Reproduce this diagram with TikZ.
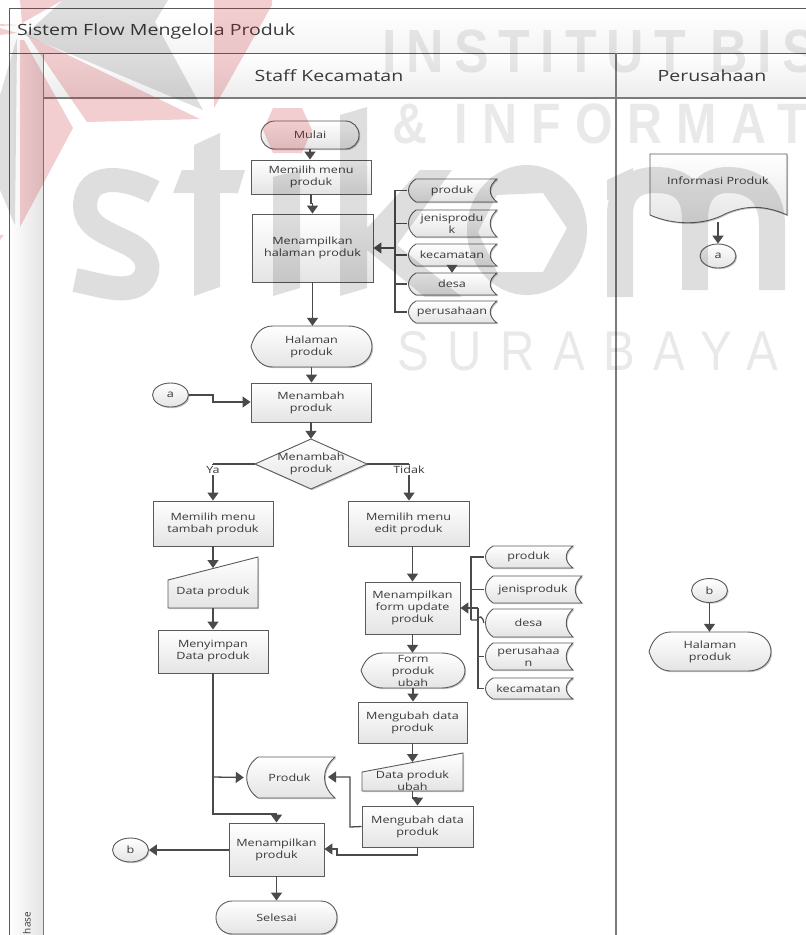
\documentclass[tikz,border=0pt]{standalone}
\usepackage{fontspec}
\setmainfont[FakeStretch=1.26]{Open Sans}
\newfontfamily\plainfont{Open Sans}
\newfontfamily\wmfont[FakeStretch=.85]{Liberation Sans}
\usetikzlibrary{arrows.meta,shadows,shapes.geometric}
\definecolor{linec}{HTML}{4A4A4A}
\definecolor{framec}{HTML}{5A5A5A}
\definecolor{txtc}{HTML}{3A3A3A}
\definecolor{nodeg}{HTML}{E4E4E4}
\definecolor{wmred}{HTML}{C4202E}
\tikzset{
  shapefill/.style={draw=framec,line width=0.9pt,top color=white,bottom color=nodeg,
    drop shadow={shadow xshift=1.2pt,shadow yshift=-1.2pt,fill=black,opacity=.22}},
  boxtxt/.style={inner sep=0pt,align=center,text=txtc,font=\fontsize{10}{12}\selectfont},
  flow/.style={draw=linec,line width=1.5pt,-{Triangle[length=8pt,width=11pt]}},
  plain/.style={draw=linec,line width=1.3pt},
  lab/.style={fill=white,inner sep=1pt,text=txtc,font=\fontsize{10}{11}\selectfont},
  bar/.style={draw=framec,line width=0.9pt},
  head/.style={text=txtc,font=\fontsize{15.5}{17}\selectfont},
}
% name x0 y0 x1 y1 text
\newcommand{\procbox}[6]{%
  \node[boxtxt,shapefill,rectangle,minimum width={(#4-#2)*1pt},minimum height={(#5-#3)*1pt}] (#1) at ({(#2+#4)/2},{(#3+#5)/2}) {#6};}
\newcommand{\termbox}[6]{%
  \node[boxtxt,shapefill,rectangle,rounded corners={(#5-#3)*0.49pt},minimum width={(#4-#2)*1pt},minimum height={(#5-#3)*1pt}] (#1) at ({(#2+#4)/2},{(#3+#5)/2}) {#6};}
\newcommand{\connbox}[4]{%
  \node[boxtxt,shapefill,ellipse,minimum width=36pt,minimum height=24pt] (#1) at (#2,#3) {#4};}
\newcommand{\storedbox}[7][9]{%
  \pgfmathsetmacro\hh{#6-#4}%
  \path[shapefill] (#3+#1,#4) -- (#5,#4) .. controls (#5-#1,#4+.3*\hh) and (#5-#1,#6-.3*\hh) .. (#5,#6) -- (#3+#1,#6) .. controls (#3-1,#6-.25*\hh) and (#3-1,#4+.25*\hh) .. (#3+#1,#4) -- cycle;
  \node[boxtxt,minimum width={(#5-#3)*1pt},minimum height={(#6-#4)*1pt}] (#2) at ({(#3+#5)/2},{(#4+#6)/2}) {#7};}
\newcommand{\displaybox}[6]{%
  \pgfmathsetmacro\ym{(#3+#5)/2}%
  \pgfmathsetmacro\hh{#5-#3}%
  \path[shapefill] (#2,\ym) .. controls (#2+4,\ym-.35*\hh) and (#2+12,#3) .. (#2+22,#3) -- (#4-24,#3) .. controls (#4-8,#3) and (#4,#3+.25*\hh) .. (#4,\ym) .. controls (#4,#5-.25*\hh) and (#4-8,#5) .. (#4-24,#5) -- (#2+22,#5) .. controls (#2+12,#5) and (#2+4,\ym+.35*\hh) .. (#2,\ym) -- cycle;
  \node[boxtxt,minimum width={(#4-#2)*1pt},minimum height={(#5-#3)*1pt}] (#1) at ({(#2+#4)/2},\ym) {#6};}
% name x0 ytopright x1 y1 yleft textcy text
\newcommand{\manualbox}[8]{%
  \path[shapefill] (#2,#6) -- (#4,#3) -- (#4,#5) -- (#2,#5) -- cycle;
  \node[inner sep=0pt,minimum width={(#4-#2)*1pt},minimum height={(#5-#3)*1pt}] (#1) at ({(#2+#4)/2},{(#3+#5)/2}) {};
  \node[boxtxt] (#1-t) at ({(#2+#4)/2},#7) {#8};}
\begin{document}
\begin{tikzpicture}[x=1pt,y=-1pt]
\useasboundingbox (0,0) rectangle (806,935);
\fill[white] (0,0) rectangle (806,935);
% swimlane frame
\path[top color=white,bottom color=nodeg!40] (9,9) rectangle (806,53);
\path[top color=white,bottom color=nodeg!70] (43,53) rectangle (806,98);
\path[left color=white,right color=nodeg] (9,53) rectangle (43,935);
\draw[bar] (806,8.5) -- (9.5,8.5) -- (9.5,935);
\draw[bar] (9.5,53) -- (806,53);
\draw[draw=framec!80,line width=1.4pt] (43.5,53) -- (43.5,935);
\draw[draw=framec!80,line width=1.2pt] (43.5,98) -- (806,98);
\draw[draw=framec!80,line width=1.2pt] (616,53) -- (616,935);
\node[head,anchor=west,inner sep=0pt] (title) at (17,31) {Sistem Flow Mengelola Produk};
\node[head] (lane1) at (329,76) {Staff Kecamatan};
\node[head] (lane2) at (712,76) {Perusahaan};
\node[rotate=90,inner sep=0pt,text=txtc,font=\plainfont\fontsize{10}{10}\selectfont] (phase) at (27,923) {hase};
% nodes
\termbox{mulai}{261}{121}{359}{149}{Mulai}
\procbox{menu}{251}{160}{371}{194}{Memilih menu\\produk}
\procbox{tampil}{252}{214}{373}{282}{Menampilkan\\halaman produk}
\storedbox{pa}{407}{179}{497}{202}{produk}
\storedbox{pb}{407}{210}{497}{237}{jenisprodu\\k}
\storedbox{pc}{407}{244}{497}{266}{kecamatan}
\storedbox{pd}{407}{273}{497}{295}{desa}
\storedbox{pe}{407}{301}{497}{323}{perusahaan}
\displaybox{hal}{251}{326}{372}{367}{Halaman\\produk}
\connbox{cona}{170.5}{395}{a}
\procbox{tambah}{251}{383}{371}{422}{Menambah\\produk}
\path[shapefill] (255,464) -- (311,439) -- (367,464) -- (311,489) -- cycle;
\node[boxtxt,minimum width=112pt,minimum height=50pt] (dec) at (311,464) {Menambah\\produk};
\procbox{mtambah}{153}{501}{273}{546}{Memilih menu\\tambah produk}
\procbox{medit}{348}{501}{469}{546}{Memilih menu\\edit produk}
\manualbox{dp}{168}{557}{258}{608}{580}{592}{Data produk}
\procbox{simpan}{158}{630}{268}{673}{Menyimpan\\Data produk}
\procbox{update}{365}{582}{460}{634}{Menampilkan\\form update\\produk}
\storedbox{qa}{484}{546}{573}{568}{produk}
\storedbox{qb}{484}{576}{582}{603}{jenisproduk}
\storedbox{qc}{484}{609}{573}{637}{desa}
\storedbox{qd}{484}{643}{573}{670}{perusahaa\\n}
\storedbox{qe}{484}{678}{573}{699}{kecamatan}
\displaybox{form}{361}{653}{465}{688}{Form\\produk\\ubah}
\procbox{ubah}{358}{702}{467}{743}{Mengubah data\\produk}
\manualbox{dpu}{362}{753}{463}{791}{772}{781}{Data produk\\ubah}
\procbox{ubah2}{362}{806}{473}{847}{Mengubah data\\produk}
\storedbox[14]{prod}{244}{757}{335}{798}{Produk}
\procbox{mprod}{229}{823}{324}{876}{Menampilkan\\produk}
\connbox{conb}{130.5}{850}{b}
\termbox{selesai}{216}{901}{337}{934}{Selesai}
% right lane
\path[shapefill] (650,154) -- (787,154) -- (787,215) .. controls (765,205) and (745,205) .. (725,214) .. controls (705,225) and (675,226) .. (650,215) -- cycle;
\node[inner sep=0pt,minimum width=137pt,minimum height=68pt] (info) at (718.5,188) {};
\node[boxtxt] (info-t) at (718,181) {Informasi Produk};
\connbox{cona2}{718}{256}{a}
\connbox{conb2}{709.5}{590.5}{b}
\displaybox{hal2}{649}{632}{771}{671}{Halaman\\produk}
% connector anchors
\coordinate (busa) at (395,248);
\coordinate (dpin) at (213,568);
\coordinate (dpuin) at (412.5,762);
\coordinate (busb) at (471,620);
\coordinate (busc) at (478,608);
\coordinate (hopa) at (477,620);
\coordinate (jog) at (213,814);
\coordinate (brn) at (213,777);
\coordinate (prodin) at (328,777);
% connectors
\draw[flow] (mulai.south) -- (mulai.south |- menu.north);
\draw[flow] (menu.south) -- ++(0,9) -| (tampil.north);
\draw[flow] (tampil.south) -- (tampil.south |- hal.north);
\draw[flow] (hal.south) -- (hal.south |- tambah.north);
\draw[flow,line width=1.3pt] (cona.east) -- (213,395) |- (tambah.west |- 0,402);
\draw[flow] (tambah.south) -- (tambah.south |- dec.north);
\draw[plain] (dec.west) -- (213,464) coordinate (ya);
\draw[flow] (ya) -- (ya |- mtambah.north);
\draw[plain] (dec.east) -- (409,464) coordinate (tidak);
\draw[flow] (tidak) -- (tidak |- medit.north);
\node[lab] (lya) at (213,470) {Ya};
\node[lab] (ltidak) at (409,470) {Tidak};
\draw[flow] (mtambah.south) -- (dpin);
\draw[flow] (dp.south) -- (dp.south |- simpan.north);
\draw[flow] (update.north |- medit.south) -- (update.north);
\draw[flow] (update.south) -- (update.south |- form.north);
\draw[flow] (form.south) -- (form.south |- ubah.north);
\draw[flow] (ubah.south) -- (dpuin);
\draw[flow] (dpu.south) -- (412.5,798) -| (ubah2.north);
\draw[flow] (simpan.south) -- (jog) -| (mprod.north);
\draw[flow,line width=1.3pt] (brn) -- (prod.west);
\draw[flow,line width=1.3pt] (ubah2.west) -- (350,827) |- (prodin);
\draw[flow,line width=1.3pt] (ubah2.south) -- (417.5,855) -- (337,855) |- (mprod.east |- 0,849);
\draw[flow,line width=1.3pt] (mprod.west |- conb.east) -- (conb.east);
\draw[flow] (mprod.south) -- (mprod.south |- selesai.north);
% first stored bus
\draw[plain] (pa.west) -| (busa);
\draw[plain] (pb.west) -| (busa);
\draw[plain] (pc.west) -| (busa);
\draw[plain] (pd.west) -| (busa);
\draw[plain] (pe.west) -| (busa);
\draw[flow] (busa) -- (tampil.east |- busa);
\draw[flow,line width=1pt] (pc.south) -- (pd.north);
% second stored bus
\draw[plain] (qa.west) -| (busb);
\draw[plain] (qb.west) -| (busb);
\draw[plain] (busb) -- (hopa) .. controls (479,615) and (483,616) .. (qc.west);
\draw[plain] (qd.west) -| (busc);
\draw[plain] (qe.west) -| (busc);
\draw[flow] (busc) -- (update.east |- busc);
% right lane connectors
\draw[flow] (718,222) -- (cona2.north);
\draw[flow] (conb2.south) -- (conb2.south |- hal2.north);
% watermark
\begin{scope}[transparency group,opacity=.13]
 \fill[black] (63,0) -- (158,0) -- (168,0) -- (155,22) -- (203,110) -- (25,35) -- cycle;
 \fill[black] (17,38) -- (15,225) -- (0,190) -- (0,95) -- cycle;
 % s
 \draw[black,line width=24pt] (154,192) .. controls (128,178) and (92,172) .. (86,198) .. controls (80,225) and (105,232) .. (125,242) .. controls (148,252) and (152,268) .. (143,280) .. controls (130,296) and (100,285) .. (75,280);
 % t
 \fill[black] (194,145) -- (220,133) -- (220,170) -- (245,170) -- (238,193) -- (220,193) -- (220,287) -- (194,296) -- (194,193) -- (173,193) -- (182,170) -- (194,170) -- cycle;
 % i
 \fill[black] (273,177) -- (300,170) -- (300,288) -- (273,296) -- cycle;
 % k
 \fill[black] (340,115) -- (367,107) -- (367,228) -- (420,170) -- (452,170) -- (397,245) -- (462,297) -- (425,297) -- (367,250) -- (367,288) -- (340,296) -- cycle;
 % o
 \fill[black,even odd rule] (527,230) ellipse [x radius=60,y radius=65] (497,195) -- (543,193) -- (567,228) -- (543,272) -- (497,272) -- (478,232) -- cycle;
 % m
 \draw[black,line width=26pt] (620,297) -- (620,215) .. controls (620,190) and (635,180) .. (655,180) .. controls (680,180) and (695,190) .. (695,220) -- (695,290) (695,220) .. controls (695,190) and (710,180) .. (728,180) .. controls (755,180) and (772,195) .. (772,225) -- (772,290);
 \fill[black] (607,180) -- (633,168) -- (633,200) -- (607,200) -- cycle;
\end{scope}
\begin{scope}[transparency group,opacity=.085]
 \node[anchor=base west,inner sep=0pt,text=black,font=\wmfont\bfseries\fontsize{61}{61}\selectfont\addfontfeature{LetterSpace=16.5}] (wma) at (382,72) {INSTITUT BIS};
 \node[anchor=base west,inner sep=0pt,text=black,font=\wmfont\bfseries\fontsize{57}{57}\selectfont\addfontfeature{LetterSpace=25}] (wmb) at (392,143) {\& INFORMAT};
 \node[anchor=base west,inner sep=0pt,text=black,font=\wmfont\fontsize{56}{56}\selectfont\addfontfeature{LetterSpace=33}] (wmc) at (397,370) {SURABAYA};
\end{scope}
\begin{scope}[transparency group,opacity=.22]
 \fill[wmred] (214,0) -- (272,0) -- (272,5) -- (214,108) -- cycle;
 \fill[wmred] (27,35) -- (200,119) -- (87,122) -- cycle;
 \fill[wmred] (24,40) -- (73,128) -- (20,227) -- (20,40) -- cycle;
 \fill[wmred] (20,0) -- (63,0) -- (22,23) -- cycle;
 \fill[wmred] (0,24) -- (17,25) -- (0,26) -- cycle;
 \fill[wmred] (0,28) -- (17,33) -- (0,35) -- cycle;
 \fill[wmred] (0,235) -- (4,235) -- (0,240) -- cycle;
 \fill[wmred] (273,108) -- (302,108) -- (312,130) -- (302,153) -- (273,153) -- (263,130) -- cycle;
\end{scope}
\end{tikzpicture}
\end{document}
